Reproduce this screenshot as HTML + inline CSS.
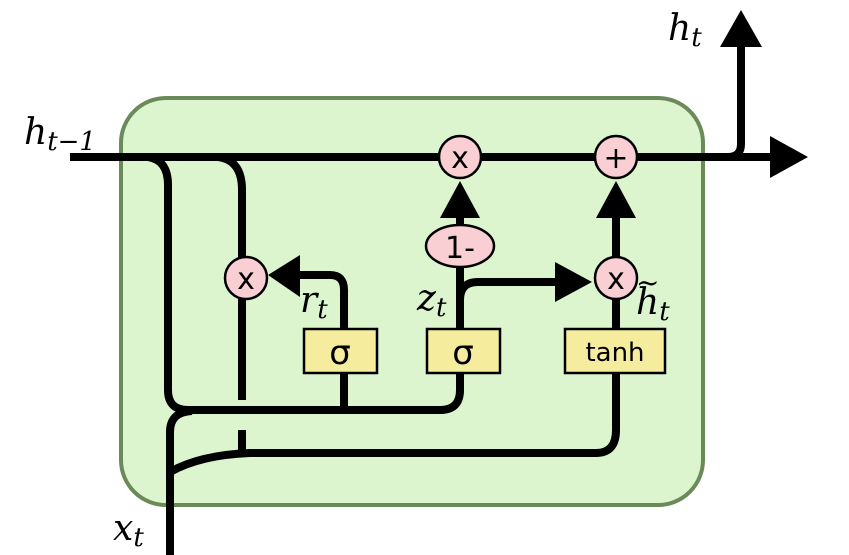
<!DOCTYPE html>
<html><head><meta charset="utf-8"><style>
html,body{margin:0;padding:0;background:#fff;}
svg{display:block}
.m{font-family:"DejaVu Serif","Liberation Serif",serif;font-style:italic;}
.s{font-family:"DejaVu Sans","Liberation Sans",sans-serif;}
</style></head><body>
<svg width="849" height="555" viewBox="0 0 849 555">
<rect x="121" y="98" width="582" height="407" rx="45" fill="#ddf5cf" stroke="#6b8a5a" stroke-width="4"/>
<g fill="none" stroke="#000" stroke-width="8">
<path d="M70 157 H775"/>
<path d="M700 157 H728 Q741 157 741 144 V45"/>
<path d="M148 157 Q168 160 168 185 V390 Q168 410 188 410 H440 Q460 410 460 390 V282"/>
<path d="M344 410 V373"/>
<path d="M218 157 Q242 160 242 190 V400"/>
<path d="M242 430 V455"/>
<path d="M170 555 V432 Q170 412 192 411"/>
<path d="M170 472 Q200 455 250 453 H596 Q616 453 616 430 V373"/>
<path d="M344 329 V290 Q344 275 330 275 H300"/>
<path d="M460 329 V218"/>
<path d="M460 300 Q460 282 478 282 H560"/>
<path d="M616 329 V218"/>
</g>
<g fill="#000">
<polygon points="770,136 808,157 770,178"/>
<polygon points="741,10 720,47 762,47"/>
<polygon points="268,275 300,255 300,297"/>
<polygon points="460,181 440,218 480,218"/>
<polygon points="616,181 596,218 636,218"/>
<polygon points="592,282 555,262 555,302"/>
</g>
<g fill="#f9cfd3" stroke="#000" stroke-width="2.5">
<circle cx="460" cy="157" r="21"/>
<circle cx="616" cy="157" r="21"/>
<circle cx="616" cy="278" r="21"/>
<circle cx="246" cy="278" r="21"/>
<ellipse cx="460" cy="246" rx="34" ry="21"/>
</g>
<g fill="#f5ec9e" stroke="#000" stroke-width="2.5">
<rect x="304" y="329" width="73" height="44"/>
<rect x="427" y="329" width="73" height="44"/>
<rect x="565" y="329" width="100" height="44"/>
</g>
<g class="s" font-size="30" text-anchor="middle">
<text x="460" y="168">x</text>
<text x="616" y="168">+</text>
<text x="616" y="289">x</text>
<text x="246" y="289">x</text>
<text x="460" y="258">1-</text>
<text x="340" y="364" font-size="34">σ</text>
<text x="463" y="364" font-size="34">σ</text>
<text x="615" y="361" font-size="26">tanh</text>
</g>
<g class="m" font-size="36">
<text x="24" y="144">h<tspan font-size="26" dy="6">t−1</tspan></text>
<text x="668" y="40">h<tspan font-size="26" dy="6">t</tspan></text>
<text x="113" y="540">x<tspan font-size="26" dy="6">t</tspan></text>
<text x="300" y="312">r<tspan font-size="26" dy="6">t</tspan></text>
<text x="417" y="310">z<tspan font-size="26" dy="6">t</tspan></text>
<text x="636" y="314">h<tspan font-size="26" dy="6">t</tspan></text>
<text x="636" y="292" font-size="28">~</text>
</g>
</svg>
</body></html>
